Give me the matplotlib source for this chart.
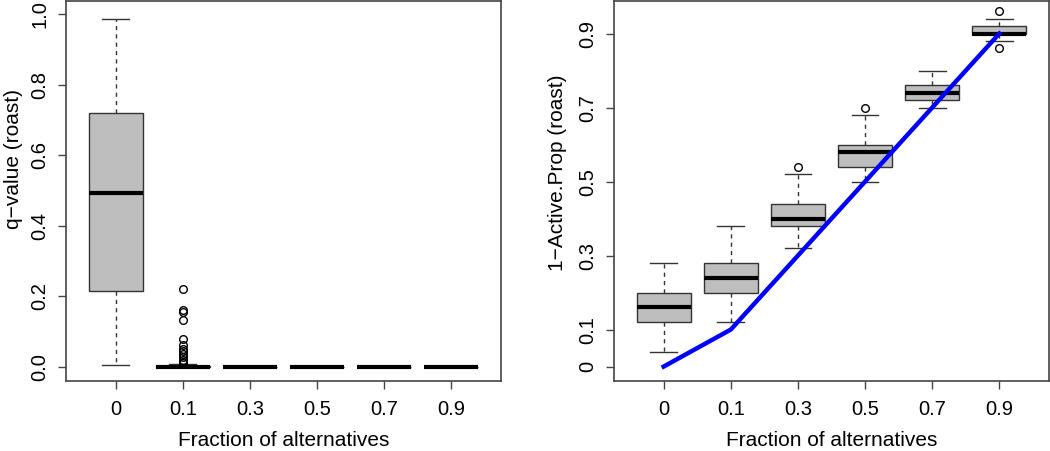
import matplotlib
matplotlib.use('Agg')
import matplotlib.pyplot as plt

plt.rcParams['font.family'] = ['Liberation Sans', 'DejaVu Sans']

# Categories (fraction of alternatives)
fractions = ['0', '0.1', '0.3', '0.5', '0.7', '0.9']

# Left panel: q-value (roast) box statistics
q_lo = [0.006, 0.0, 0.0, 0.0, 0.0, 0.0]
q_q1 = [0.215, 0.0, 0.0, 0.0, 0.0, 0.0]
q_med = [0.492, 0.0, 0.0, 0.0, 0.0, 0.0]
q_q3 = [0.719, 0.002, 0.0, 0.0, 0.0, 0.0]
q_hi = [0.988, 0.007, 0.0, 0.0, 0.0, 0.0]
q_fliers = [[], [0.221, 0.160, 0.155, 0.133, 0.080, 0.062, 0.052, 0.044,
                 0.036, 0.028, 0.020, 0.014, 0.010], [], [], [], []]

# Right panel: 1-Active.Prop (roast) box statistics
p_lo = [0.04, 0.12, 0.32, 0.50, 0.70, 0.88]
p_q1 = [0.12, 0.20, 0.38, 0.54, 0.72, 0.90]
p_med = [0.16, 0.24, 0.40, 0.58, 0.74, 0.90]
p_q3 = [0.20, 0.28, 0.44, 0.60, 0.76, 0.92]
p_hi = [0.28, 0.38, 0.52, 0.68, 0.80, 0.94]
p_fliers = [[], [], [0.54], [0.70], [], [0.96, 0.86]]

# True proportion of non-active genes
truth = [0.0, 0.1, 0.3, 0.5, 0.7, 0.9]


def make_stats(lo, q1, med, q3, hi, fl):
    return [dict(whislo=a, q1=b, med=c, q3=d, whishi=e, fliers=f)
            for a, b, c, d, e, f in zip(lo, q1, med, q3, hi, fl)]


def draw_box(ax, stats):
    pos = range(1, len(stats) + 1)
    ax.bxp(stats, positions=pos, widths=0.8, capwidths=0.4, patch_artist=True,
           boxprops=dict(facecolor='#bebebe', edgecolor='#333333', linewidth=1),
           medianprops=dict(color='black', linewidth=3, solid_capstyle='butt'),
           whiskerprops=dict(color='#333333', linestyle=(0, (3, 3)), linewidth=1),
           capprops=dict(color='#333333', linewidth=1),
           flierprops=dict(marker='o', markersize=5.5, markerfacecolor='none',
                           markeredgecolor='black', markeredgewidth=1))
    ax.set_xlim(0.26, 6.74)
    ax.set_xticks(list(pos))
    ax.set_xticklabels(fractions)
    for s in ax.spines.values():
        s.set_color('#444444')
        s.set_linewidth(1.2)
    ax.tick_params(direction='out', length=6, width=1, color='#444444',
                   labelsize=14.5, pad=6)
    ax.tick_params(axis='x', pad=8)
    ax.set_xlabel('Fraction of alternatives', fontsize=15, labelpad=8)


fig = plt.figure(figsize=(10.5, 4.51), dpi=100)
ax1 = fig.add_axes([66 / 1050, 70 / 451, 435 / 1050, 380 / 451])
ax2 = fig.add_axes([614 / 1050, 70 / 451, 435 / 1050, 380 / 451])

draw_box(ax1, make_stats(q_lo, q_q1, q_med, q_q3, q_hi, q_fliers))
ax1.set_ylim(-0.04, 1.038)
ax1.set_yticks([0.0, 0.2, 0.4, 0.6, 0.8, 1.0])
ax1.set_yticklabels(['0.0', '0.2', '0.4', '0.6', '0.8', '1.0'],
                    rotation=90, va='center')
ax1.set_ylabel('q\u2212value (roast)', fontsize=15)
ax1.yaxis.set_label_coords(-0.098, 0.584)

draw_box(ax2, make_stats(p_lo, p_q1, p_med, p_q3, p_hi, p_fliers))
ax2.plot(range(1, 7), truth, color='#0000ff', linewidth=3.2, zorder=5)
ax2.set_ylim(-0.039, 0.988)
ax2.set_yticks([0, 0.1, 0.3, 0.5, 0.7, 0.9])
ax2.set_yticklabels(['0', '0.1', '0.3', '0.5', '0.7', '0.9'],
                    rotation=90, va='center')
ax2.set_ylabel('1\u2212Active.Prop (roast)', fontsize=15)
ax2.yaxis.set_label_coords(-0.108, 0.547)

fig.savefig('out.png', dpi=100)
